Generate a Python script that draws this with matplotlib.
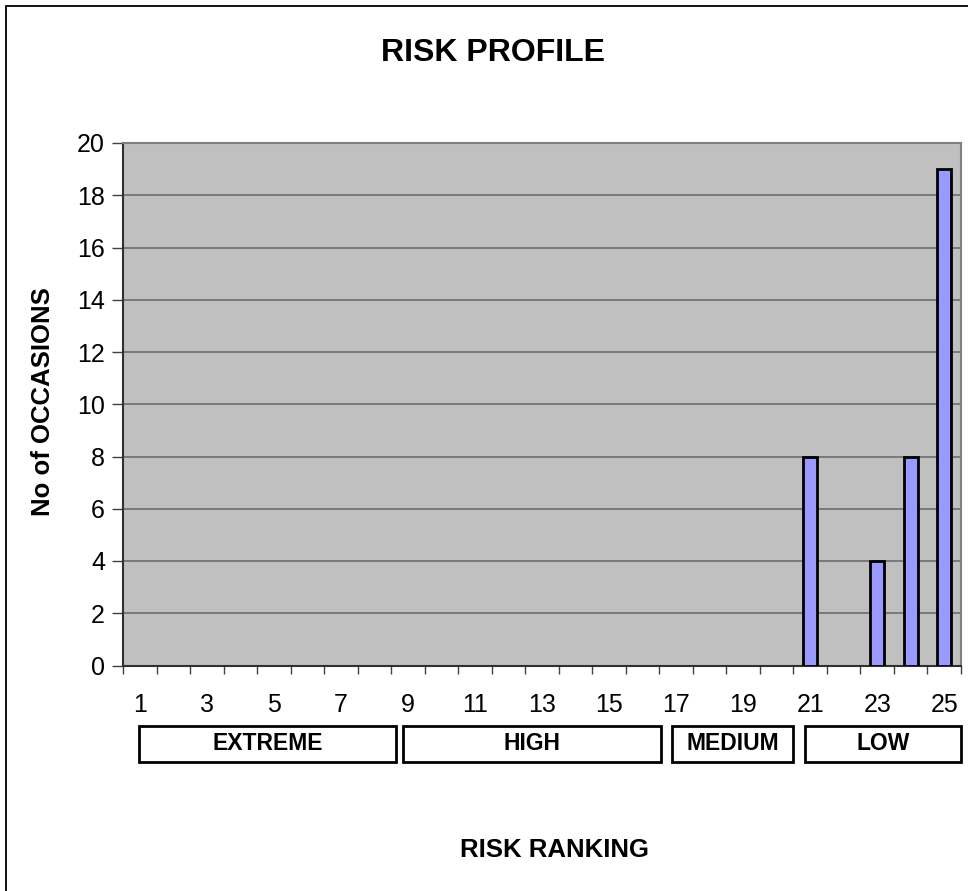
import matplotlib
matplotlib.use("Agg")
import matplotlib.pyplot as plt
from matplotlib.patches import Rectangle

plt.rcParams['font.family'] = ['Liberation Sans', 'DejaVu Sans']

# risk ranking 1..25 and number of occasions
ranking = list(range(1, 26))
occasions = [0, 0, 0, 0, 0, 0, 0, 0, 0, 0, 0, 0, 0, 0, 0, 0, 0, 0, 0, 0, 8, 0, 4, 8, 19]
band_labels = ["EXTREME", "HIGH", "MEDIUM", "LOW"]

W, H = 968, 891
fig = plt.figure(figsize=(W / 100, H / 100), dpi=100)

def fx(px):
    return px / W

def fy(py):
    return 1 - py / H

# outer chart border
fig.patches.append(Rectangle((fx(6), fy(1000)), fx(1000), fy(6) - fy(1000), transform=fig.transFigure,
                             fill=False, edgecolor="#000000", linewidth=1.3))

ax = fig.add_axes([fx(123), fy(665.5), fx(961) - fx(123), fy(143) - fy(665.5)])
ax.set_facecolor("#C0C0C0")
lw = [2 if v > 0 else 0 for v in occasions]
ax.bar(ranking, occasions, width=0.42, color="#9999FF", edgecolor="black", linewidth=lw, zorder=3)

ax.set_xlim(0.5, 25.5)
ax.set_ylim(0, 20)
ax.set_yticks(range(0, 21, 2))
ax.yaxis.grid(True, color="#6E6E6E", linewidth=1.2, zorder=1)

ax.set_xticks([r for r in ranking if r % 2 == 1])
ax.set_xticklabels([str(r) for r in ranking if r % 2 == 1])
ax.set_xticks([r + 0.5 for r in [0] + ranking], minor=True)
ax.tick_params(axis="x", which="major", length=0, pad=20, labelsize=18)
ax.tick_params(axis="x", which="minor", length=6, width=1, color="#404040", direction="out")
ax.tick_params(axis="y", length=8, width=1, color="#404040", labelsize=18, pad=5)

for side in ["top", "right"]:
    ax.spines[side].set_color("#808080")
    ax.spines[side].set_linewidth(1.5)
ax.spines["left"].set_color("#303030")
ax.spines["left"].set_linewidth(1.5)
ax.spines["bottom"].set_color("#303030")
ax.spines["bottom"].set_linewidth(1.5)

fig.text(fx(493), fy(53), "RISK PROFILE", ha="center", va="center", fontsize=23, fontweight="bold")
fig.text(fx(43), fy(402), "No of OCCASIONS", ha="center", va="center", rotation=90, fontsize=18.5, fontweight="bold")
fig.text(fx(555), fy(850), "RISK RANKING", ha="center", va="center", fontsize=18.5, fontweight="bold")

# band boxes under the axis
box_x = [(139, 396), (403, 661), (672, 793), (805, 961)]
for (x0, x1), lab in zip(box_x, band_labels):
    fig.patches.append(Rectangle((fx(x0), fy(762)), fx(x1) - fx(x0), fy(726) - fy(762),
                                 transform=fig.transFigure, fill=False, edgecolor="black", linewidth=2))
    fig.text(fx((x0 + x1) / 2), fy(744), lab, ha="center", va="center", fontsize=16.5, fontweight="bold")

fig.savefig("out.png", dpi=100)
